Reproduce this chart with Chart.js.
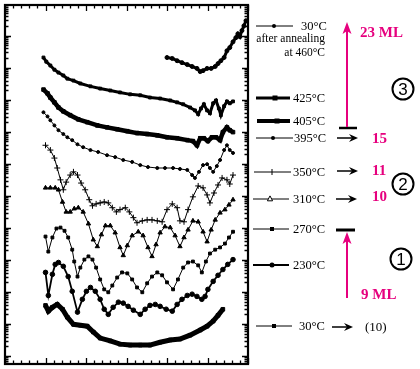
<!DOCTYPE html>
<html>
<head>
<meta charset="utf-8">
<script src="https://cdn.jsdelivr.net/npm/chart.js@4.4.1/dist/chart.umd.min.js"></script>
<style>
  html, body { margin: 0; padding: 0; background: #fff; }
  canvas { display: block; }
</style>
</head>
<body>
<canvas id="rheed" width="420" height="369"></canvas>
<script>
// RHEED intensity vs time, one curve per growth temperature.
// x = time (arbitrary, 6 major divisions), y = log10(intensity), curves offset by decades

const xRange = [0, 6];
const yRange = [-0.25, 10.96];

// 30°C after annealing at 460°C
const annealX = [4.00,4.13,4.25,4.37,4.50,4.62,4.74,4.82,4.89,4.99,5.09,5.19,5.26,5.33,5.41,5.48,5.55,5.63,5.70,5.75,5.80,5.85,5.90,5.95];
const annealY = [9.32,9.29,9.22,9.16,9.10,9.04,8.98,8.88,8.91,8.98,8.98,9.04,9.13,9.22,9.32,9.53,9.63,9.81,9.94,10.06,9.97,10.16,10.31,10.47];

// 425°C
const t425X = [0.95,1.02,1.12,1.22,1.32,1.44,1.54,1.69,1.86,2.11,2.35,2.60,2.84,3.09,3.34,3.58,3.83,4.08,4.25,4.40,4.57,4.69,4.77,4.84,4.91,4.99,5.06,5.14,5.21,5.28,5.33,5.41,5.48,5.55,5.63];
const t425Y = [9.32,9.19,9.07,8.94,8.85,8.76,8.66,8.60,8.51,8.42,8.35,8.29,8.23,8.17,8.14,8.07,8.04,7.98,7.92,7.86,7.76,7.67,7.55,7.73,7.86,7.67,7.58,7.89,7.98,7.73,7.52,7.80,7.95,7.89,7.95];

// 405°C
const t405X = [0.95,1.05,1.12,1.22,1.32,1.44,1.61,1.81,2.03,2.28,2.52,2.77,3.02,3.26,3.51,3.76,4.00,4.25,4.50,4.64,4.74,4.82,4.91,5.01,5.11,5.21,5.31,5.38,5.48,5.55,5.63];
const t405Y = [8.32,8.20,8.07,7.92,7.76,7.64,7.52,7.39,7.30,7.20,7.14,7.08,7.02,6.96,6.93,6.89,6.83,6.80,6.74,6.71,6.58,6.80,6.80,6.71,6.83,6.83,6.74,6.99,7.14,7.05,6.99];

// 395°C
const t395X = [0.95,1.05,1.12,1.22,1.32,1.44,1.54,1.66,1.79,1.93,2.11,2.30,2.52,2.72,2.92,3.14,3.34,3.53,3.76,3.95,4.15,4.32,4.50,4.62,4.69,4.79,4.89,4.99,5.06,5.14,5.23,5.31,5.41,5.48,5.55,5.63];
const t395Y = [7.61,7.48,7.36,7.20,7.05,6.93,6.83,6.74,6.61,6.52,6.43,6.37,6.27,6.21,6.12,6.06,5.96,5.90,5.87,5.87,5.87,5.84,5.81,5.65,5.56,5.75,5.96,5.99,5.87,5.75,5.93,6.12,6.43,6.58,6.43,6.34];

// 350°C
const t350X = [1.00,1.12,1.22,1.29,1.37,1.44,1.51,1.61,1.69,1.79,1.88,1.98,2.08,2.16,2.25,2.35,2.45,2.55,2.65,2.75,2.84,2.97,3.07,3.17,3.26,3.39,3.51,3.63,3.76,3.88,4.00,4.13,4.25,4.32,4.42,4.52,4.64,4.77,4.89,4.99,5.06,5.16,5.26,5.36,5.48,5.55,5.63];
const t350Y = [6.58,6.43,6.18,5.87,5.50,5.19,5.43,5.65,5.75,5.65,5.40,5.19,4.88,4.69,4.75,4.78,4.81,4.78,4.63,4.50,4.57,4.63,4.50,4.32,4.16,4.22,4.25,4.25,4.22,4.19,4.57,4.75,4.63,4.22,4.19,4.57,4.97,5.31,5.25,5.03,4.78,5.09,5.34,5.56,5.50,5.37,5.65];

// 310°C
const t310X = [1.00,1.12,1.24,1.32,1.42,1.51,1.61,1.71,1.81,1.93,2.06,2.18,2.28,2.38,2.48,2.60,2.72,2.84,2.92,3.02,3.14,3.29,3.41,3.53,3.63,3.73,3.83,3.95,4.08,4.20,4.32,4.42,4.52,4.64,4.77,4.89,4.99,5.09,5.19,5.31,5.43,5.53,5.63];
const t310Y = [5.25,5.25,5.25,5.19,4.81,4.50,4.50,4.60,4.63,4.50,4.13,3.63,3.42,3.79,4.07,4.07,3.85,3.39,3.14,3.45,3.76,3.88,3.76,3.39,3.11,3.48,3.85,4.04,4.01,3.76,3.42,3.70,3.94,4.22,4.19,3.88,3.57,3.94,4.25,4.47,4.57,4.72,4.88];

// 270°C
const t270X = [1.00,1.07,1.17,1.27,1.37,1.47,1.56,1.66,1.71,1.79,1.86,1.96,2.06,2.16,2.25,2.35,2.45,2.55,2.65,2.77,2.89,3.02,3.14,3.26,3.39,3.51,3.63,3.76,3.88,4.00,4.15,4.27,4.40,4.52,4.64,4.77,4.86,4.96,5.06,5.19,5.31,5.43,5.53,5.63];
const t270Y = [3.73,3.26,3.70,3.98,4.01,3.91,3.70,3.32,2.95,2.48,2.76,3.01,3.11,3.01,2.76,2.39,2.08,1.99,2.20,2.45,2.61,2.58,2.39,2.14,1.99,2.27,2.48,2.61,2.52,2.30,2.08,2.39,2.76,2.92,2.95,2.83,2.61,2.95,3.20,3.32,3.39,3.51,3.70,3.88];

// 230°C
const t230X = [1.00,1.07,1.17,1.24,1.32,1.44,1.56,1.66,1.79,1.91,2.01,2.11,2.23,2.35,2.45,2.55,2.67,2.80,2.92,3.04,3.17,3.34,3.46,3.58,3.71,3.83,3.98,4.13,4.25,4.37,4.50,4.62,4.74,4.86,4.94,5.01,5.14,5.26,5.38,5.50,5.63];
const t230Y = [2.61,1.89,2.55,2.86,2.92,2.80,2.48,2.02,1.37,1.77,2.02,2.14,2.02,1.77,1.46,1.30,1.52,1.68,1.65,1.55,1.43,1.30,1.46,1.58,1.61,1.55,1.46,1.40,1.61,1.77,1.89,1.93,1.86,1.77,1.86,2.08,2.33,2.52,2.70,2.86,3.01];

// 30°C
const t30X = [1.00,1.07,1.17,1.29,1.42,1.54,1.69,1.86,2.03,2.18,2.35,2.60,2.84,3.09,3.34,3.58,3.83,4.08,4.32,4.57,4.82,4.99,5.14,5.26,5.38];
const t30Y = [1.58,1.40,1.52,1.61,1.46,1.21,0.99,0.96,0.93,0.75,0.56,0.47,0.37,0.34,0.34,0.34,0.43,0.50,0.53,0.65,0.81,0.93,1.09,1.27,1.46];

const labels = ['30°C', '425°C', '405°C', '395°C', '350°C', '310°C', '270°C', '230°C', '30°C'];
const layerCounts = ['15', '11', '10'];

const MAGENTA = '#e6007e';
const SERIF = '"Liberation Serif", "DejaVu Serif", serif';

function pts(xs, ys) {
  return xs.map((x, i) => ({ x: x, y: ys[i] }));
}

// line width, marker style, marker radius for each curve
const styles = [
  { w: 3,   p: 'circle',   r: 2 },
  { w: 3,   p: 'rect',     r: 2 },
  { w: 4.5, p: 'rect',     r: 2.5 },
  { w: 1,   p: 'circle',   r: 1.5 },
  { w: 1,   p: 'cross',    r: 3 },
  { w: 1,   p: 'triangle', r: 2.5 },
  { w: 1,   p: 'rect',     r: 2 },
  { w: 1.8, p: 'circle',   r: 2.3 },
  { w: 5,   p: 'rect',     r: 2.5 }
];

const series = [
  pts(annealX, annealY), pts(t425X, t425Y), pts(t405X, t405Y),
  pts(t395X, t395Y), pts(t350X, t350Y), pts(t310X, t310Y),
  pts(t270X, t270Y), pts(t230X, t230Y), pts(t30X, t30Y)
];

const datasets = series.map((data, i) => ({
  label: labels[i],
  data: data,
  borderColor: '#000',
  backgroundColor: '#000',
  borderWidth: styles[i].w,
  pointStyle: styles[i].p,
  pointRadius: styles[i].r,
  pointBorderWidth: 1,
  pointBackgroundColor: '#000',
  pointBorderColor: '#000',
  tension: 0
}));

// frame with inward ticks: 5 minor per major on x, log minors on y
const frameTicks = {
  id: 'frameTicks',
  afterDatasetsDraw(chart) {
    const { ctx, chartArea: a, scales: { x, y } } = chart;
    ctx.save();
    ctx.strokeStyle = '#000';
    ctx.lineWidth = 1.3;
    ctx.beginPath();
    for (let i = 0; i <= 30; i++) {
      const px = Math.round(x.getPixelForValue(i * 0.2)) + 0.5;
      const len = i % 5 === 0 ? 6 : 3.5;
      ctx.moveTo(px, a.bottom); ctx.lineTo(px, a.bottom - len);
      ctx.moveTo(px, a.top); ctx.lineTo(px, a.top + len);
    }
    for (let d = -1; d <= 11; d++) {
      for (let k = 1; k <= 9; k++) {
        const v = d + Math.log10(k);
        if (v < yRange[0] || v > yRange[1]) continue;
        const py = Math.round(y.getPixelForValue(v)) + 0.5;
        const len = k === 1 ? 6 : 3.5;
        ctx.moveTo(a.left, py); ctx.lineTo(a.left + len, py);
        ctx.moveTo(a.right, py); ctx.lineTo(a.right - len, py);
      }
    }
    ctx.stroke();
    ctx.lineWidth = 2.2;
    ctx.strokeRect(a.left, a.top, a.right - a.left, a.bottom - a.top);
    ctx.restore();
  }
};

function marker(ctx, style, x, y, r, open) {
  ctx.beginPath();
  if (style === 'circle') {
    ctx.arc(x, y, r, 0, Math.PI * 2);
  } else if (style === 'rect') {
    ctx.rect(x - r, y - r, r * 2, r * 2);
  } else if (style === 'triangle') {
    ctx.moveTo(x, y - r * 1.2); ctx.lineTo(x + r, y + r * 0.7); ctx.lineTo(x - r, y + r * 0.7); ctx.closePath();
  } else if (style === 'cross') {
    ctx.moveTo(x, y - r); ctx.lineTo(x, y + r);
    ctx.lineWidth = 1; ctx.stroke();
    return;
  }
  if (open) { ctx.fillStyle = '#fff'; ctx.fill(); ctx.lineWidth = 1; ctx.stroke(); }
  else { ctx.fillStyle = '#000'; ctx.fill(); }
}

function arrowRight(ctx, x1, x2, y) {
  ctx.beginPath();
  ctx.moveTo(x1, y); ctx.lineTo(x2 - 4, y);
  ctx.lineWidth = 1.5; ctx.stroke();
  ctx.beginPath();
  ctx.moveTo(x2, y); ctx.lineTo(x2 - 9, y - 4); ctx.lineTo(x2 - 6, y); ctx.lineTo(x2 - 9, y + 4);
  ctx.closePath(); ctx.fill();
}

function arrowUp(ctx, x, y1, y2) {
  ctx.beginPath();
  ctx.moveTo(x, y1); ctx.lineTo(x, y2 + 6);
  ctx.lineWidth = 2; ctx.stroke();
  ctx.beginPath();
  ctx.moveTo(x, y2); ctx.lineTo(x - 4.5, y2 + 12); ctx.lineTo(x, y2 + 9); ctx.lineTo(x + 4.5, y2 + 12);
  ctx.closePath(); ctx.fill();
}

function circled(ctx, cx, cy, txt) {
  ctx.beginPath();
  ctx.arc(cx, cy, 10.5, 0, Math.PI * 2);
  ctx.lineWidth = 2; ctx.stroke();
  ctx.font = '17px "Liberation Sans", Arial, sans-serif';
  ctx.textAlign = 'center';
  ctx.fillText(txt, cx, cy + 1);
}

// legend rows and annotations to the right of the frame
const legendRows = [
  { y: 26,  x0: 256, x1: 293, mx: 274, tx: 301, lw: 1,   r: 2 },
  { y: 98,  x0: 256, x1: 290, mx: 275, tx: 293, lw: 3,   r: 2.5 },
  { y: 121, x0: 257, x1: 290, mx: 277, tx: 293, lw: 4,   r: 2.5 },
  { y: 138, x0: 256, x1: 293, mx: 273, tx: 294, lw: 1,   r: 2 },
  { y: 172, x0: 254, x1: 291, mx: 272, tx: 293, lw: 1,   r: 3 },
  { y: 199, x0: 253, x1: 289, mx: 270, tx: 293, lw: 1,   r: 2.6, open: true },
  { y: 229, x0: 253, x1: 289, mx: 272, tx: 293, lw: 1,   r: 2 },
  { y: 265, x0: 253, x1: 289, mx: 272, tx: 293, lw: 2,   r: 2.5 },
  { y: 326, x0: 256, x1: 292, mx: 274, tx: 299, lw: 1,   r: 2 }
];

const annotations = {
  id: 'annotations',
  afterDraw(chart) {
    const ctx = chart.ctx;
    ctx.save();
    ctx.strokeStyle = '#000';
    ctx.fillStyle = '#000';
    ctx.textBaseline = 'middle';

    legendRows.forEach((row, i) => {
      ctx.beginPath();
      ctx.moveTo(row.x0, row.y); ctx.lineTo(row.x1, row.y);
      ctx.lineWidth = row.lw; ctx.stroke();
      marker(ctx, styles[i].p, row.mx, row.y, row.r, row.open);
      ctx.fillStyle = '#000';
      ctx.font = '12.5px ' + SERIF;
      ctx.textAlign = 'left';
      ctx.fillText(labels[i], row.tx, row.y + 1);
    });
    ctx.font = '11.5px ' + SERIF;
    ctx.textAlign = 'right';
    ctx.fillText('after annealing', 325, 39);
    ctx.fillText('at 460°C', 325, 53);

    // black arrows to layer counts
    arrowRight(ctx, 337, 358, 138);
    arrowRight(ctx, 337, 358, 171);
    arrowRight(ctx, 336, 357, 199);
    arrowRight(ctx, 332, 353, 327);
    ctx.font = '13px ' + SERIF;
    ctx.textAlign = 'left';
    ctx.fillText('(10)', 365, 328);

    // stop bars
    ctx.lineWidth = 2.5;
    ctx.beginPath(); ctx.moveTo(339, 128); ctx.lineTo(357, 128); ctx.stroke();
    ctx.lineWidth = 3;
    ctx.beginPath(); ctx.moveTo(336, 230); ctx.lineTo(355, 230); ctx.stroke();

    circled(ctx, 403, 89, '3');
    circled(ctx, 403, 184, '2');
    circled(ctx, 401, 259, '1');

    // magenta arrows and layer counts
    ctx.strokeStyle = MAGENTA;
    ctx.fillStyle = MAGENTA;
    arrowUp(ctx, 347, 127, 22);
    arrowUp(ctx, 347, 298, 232);
    ctx.font = 'bold 15px ' + SERIF;
    ctx.textAlign = 'left';
    ctx.fillText('23 ML', 360, 33);
    ctx.fillText('9 ML', 361, 295);
    ctx.fillText(layerCounts[0], 372, 139);
    ctx.fillText(layerCounts[1], 372, 171);
    ctx.fillText(layerCounts[2], 372, 197);
    ctx.restore();
  }
};

new Chart(document.getElementById('rheed'), {
  type: 'line',
  data: { datasets: datasets },
  options: {
    responsive: false,
    animation: false,
    layout: { padding: { left: 5, top: 4, right: 172, bottom: 4 } },
    scales: {
      x: { type: 'linear', min: xRange[0], max: xRange[1], display: false },
      y: { type: 'linear', min: yRange[0], max: yRange[1], display: false }
    },
    plugins: {
      legend: { display: false },
      tooltip: { enabled: false }
    }
  },
  plugins: [frameTicks, annotations]
});
</script>
</body>
</html>
